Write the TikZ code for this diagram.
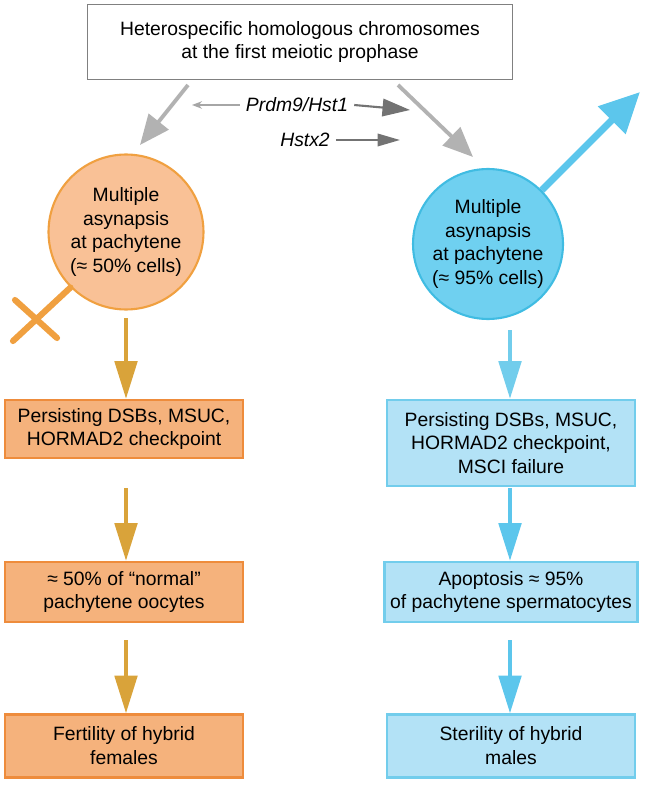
\documentclass[tikz,border=0pt]{standalone}
\usepackage{fontspec}
\setmainfont{Liberation Sans}
\usetikzlibrary{arrows.meta,positioning}
\definecolor{fcirc}{HTML}{F9C196}
\definecolor{fline}{HTML}{F0A040}
\definecolor{fbox}{HTML}{F5B27C}
\definecolor{fedge}{HTML}{EE8C3C}
\definecolor{farrow}{HTML}{D9A33A}
\definecolor{mcirc}{HTML}{6FD0F0}
\definecolor{mline}{HTML}{40BCE2}
\definecolor{mbox}{HTML}{B3E2F6}
\definecolor{medge}{HTML}{72CDEC}
\definecolor{marrow}{HTML}{5CC6EC}
\begin{document}
\begin{tikzpicture}[x=0.02cm,y=-0.02cm,
    every node/.style={font=\fontsize{11}{13.6}\selectfont, align=center},
    cellcirc/.style={circle, draw, line width=1.2pt, minimum size=3.1cm, inner sep=0pt},
    fembox/.style={rectangle, draw=fedge, fill=fbox, line width=1.5pt, minimum width=4.76cm},
    malbox/.style={rectangle, draw=medge, fill=mbox, line width=1.5pt, minimum width=4.96cm},
    grayarrow/.style={-{Triangle[length=0.6cm,width=0.5cm]}, line width=2.2pt, draw=gray!60},
    stagearrow/.style={-{Triangle[length=0.75cm,width=0.45cm]}, line width=2pt}
]
\useasboundingbox (0,0) rectangle (653,800);

\node[draw=gray, line width=0.8pt, minimum width=8.5cm, minimum height=1.5cm] (top) at (300,42)
    {Heterospecific homologous chromosomes\\at the first meiotic prophase};

\node[cellcirc, draw=fline, fill=fcirc] (fcell) at (126,232)
    {Multiple\\asynapsis\\at pachytene\\(≈ 50\% cells)};
\node[cellcirc, draw=mline, fill=mcirc, minimum size=3cm] (mcell) at (488,244)
    {Multiple\\asynapsis\\at pachytene\\(≈ 95\% cells)};

% female and male signs
\draw[fline, line width=3.5pt, line cap=round] (fcell.225) -- (13,341);
\draw[fline, line width=3.5pt, line cap=round] (15,300) -- (57,338);
\draw[marrow, line width=4pt, -{Triangle[length=0.8cm,width=0.75cm]}] (mcell.45) -- (640,92);

% gene labels
\node[font=\fontsize{11}{13.6}\selectfont\itshape] (prdm) at (297,105) {Prdm9/Hst1};
\node[font=\fontsize{11}{13.6}\selectfont\itshape] (hstx) at (305,140) {Hstx2};
\draw[gray!70, line width=0.8pt, -{Stealth[length=0.2cm]}] (prdm.west) -- (192,105);
\draw[gray!110, line width=1.2pt, -{Triangle[length=0.55cm,width=0.35cm]}] (prdm.east) -- (410,110);
\draw[gray!110, line width=1.2pt, -{Triangle[length=0.45cm,width=0.25cm]}] (hstx.east) -- (400,140);

\draw[grayarrow] (188,85) -- (140,145);
\draw[grayarrow] (398,85) -- (473,157);

% female path
\node[fembox, minimum height=1.16cm] (f1) at (124,429) {Persisting DSBs, MSUC,\\HORMAD2 checkpoint};
\node[fembox, minimum height=1.2cm] (f2) at (124,592) {≈ 50\% of “normal”\\pachytene oocytes};
\node[fembox, minimum height=1.26cm] (f3) at (124,746) {Fertility of hybrid\\females};
\draw[stagearrow, farrow] (126,318) -- (f1.north -| 126,0);
\draw[stagearrow, farrow] (126,488) -- (f2.north -| 126,0);
\draw[stagearrow, farrow] (126,640) -- (f3.north -| 126,0);

% male path
\node[malbox, minimum height=1.72cm] (m1) at (511,443) {Persisting DSBs, MSUC,\\HORMAD2 checkpoint,\\MSCI failure};
\node[malbox, minimum height=1.2cm] (m2) at (511,592) {Apoptosis ≈ 95\%\\of pachytene spermatocytes};
\node[malbox, minimum height=1.26cm] (m3) at (511,746) {Sterility of hybrid\\males};
\draw[stagearrow, medge] (510,330) -- (m1.north -| 510,0);
\draw[stagearrow, marrow] (510,488) -- (m2.north -| 510,0);
\draw[stagearrow, marrow] (510,640) -- (m3.north -| 510,0);
\end{tikzpicture}
\end{document}
